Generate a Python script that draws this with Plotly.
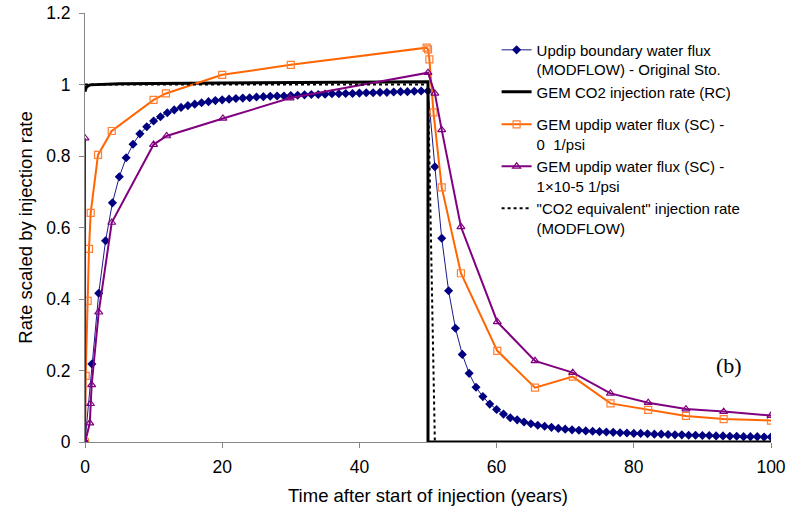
import plotly.graph_objects as go

# MODFLOW updip boundary water flux (original storativity), one value per year
modflow_years = list(range(0, 101))
modflow_flux = [
    0.000, 0.218, 0.416, 0.563, 0.669, 0.742, 0.795, 0.833, 0.862, 0.882,
    0.898, 0.910, 0.921, 0.929, 0.936, 0.941, 0.945, 0.949, 0.952, 0.955,
    0.957, 0.959, 0.961, 0.962, 0.963, 0.965, 0.966, 0.967, 0.968, 0.968,
    0.969, 0.970, 0.971, 0.972, 0.972, 0.973, 0.974, 0.974, 0.975, 0.975,
    0.976, 0.977, 0.977, 0.978, 0.978, 0.979, 0.980, 0.980, 0.981, 0.982,
    0.982, 0.770, 0.570, 0.423, 0.318, 0.245, 0.192, 0.153, 0.127, 0.106,
    0.091, 0.078, 0.068, 0.062, 0.056, 0.051, 0.047, 0.044, 0.041, 0.038,
    0.036, 0.034, 0.033, 0.031, 0.030, 0.029, 0.028, 0.027, 0.026, 0.025,
    0.024, 0.024, 0.023, 0.022, 0.022, 0.021, 0.020, 0.020, 0.019, 0.019,
    0.018, 0.018, 0.017, 0.017, 0.016, 0.016, 0.015, 0.015, 0.015, 0.014,
    0.014,
]

# GEM CO2 injection rate at reservoir conditions
gem_rc_years = [0, 0.2, 0.7, 5, 50, 50, 100]
gem_rc_rate = [0.98, 0.993, 0.999, 1.002, 1.008, 0.0, 0.0]

# GEM updip water flux, zero rock compressibility
gem_c0_years = [0, 0.1, 0.39, 0.58, 0.83, 1.9, 3.9, 10, 11.8, 20, 30, 49.8, 50,
                50.2, 50.8, 52, 54.8, 60.1, 65.6, 71.1, 76.6, 82.1, 87.6, 93.1, 100]
gem_c0_flux = [0.0, 0.185, 0.395, 0.54, 0.641, 0.803, 0.87, 0.957, 0.975, 1.027,
               1.055, 1.103, 1.098, 1.07, 0.922, 0.712, 0.472, 0.255, 0.152, 0.183,
               0.108, 0.09, 0.073, 0.064, 0.06]

# GEM updip water flux, compressibility 1e-5 1/psi
gem_c5_years = [0, 0, 0.02, 0.7, 0.8, 0.97, 2.0, 3.9, 10, 11.9, 20.1, 29.9, 50,
                51, 52, 54.8, 60.1, 65.6, 71.1, 76.6, 82.1, 87.6, 93.1, 100]
gem_c5_flux = [0.0, 0.85, 0.0, 0.053, 0.107, 0.16, 0.363, 0.614, 0.832, 0.856,
               0.905, 0.962, 1.033, 0.975, 0.873, 0.602, 0.336, 0.227, 0.194, 0.136,
               0.11, 0.092, 0.085, 0.074]

# "CO2 equivalent" injection rate used in MODFLOW
equiv_years = [0, 50, 51, 100]
equiv_rate = [1.0, 1.0, 0.0, 0.0]

x_ticks = [0, 20, 40, 60, 80, 100]
y_ticks = [0, 0.2, 0.4, 0.6, 0.8, 1.0, 1.2]
y_tick_text = ["0", "0.2", "0.4", "0.6", "0.8", "1", "1.2"]

FONT = "Liberation Sans, Arial, sans-serif"

fig = go.Figure()

fig.add_trace(go.Scatter(
    x=modflow_years, y=modflow_flux, mode="lines+markers",
    name="Updip boundary water flux<br>(MODFLOW) - Original Sto.",
    legendgroup="a",
    line=dict(color="#1a1a8c", width=1),
    marker=dict(symbol="diamond", size=7, color="#000080"),
))
fig.add_trace(go.Scatter(
    x=gem_rc_years, y=gem_rc_rate, mode="lines",
    name="GEM CO2 injection rate (RC)",
    legendgroup="a",
    line=dict(color="#000000", width=3),
))
fig.add_trace(go.Scatter(
    x=gem_c0_years, y=gem_c0_flux, mode="lines+markers",
    name="GEM updip water flux (SC) -<br>0  1/psi",
    legendgroup="b",
    line=dict(color="#FF6600", width=2),
    marker=dict(symbol="square-open", size=7, color="#FF7F33",
                line=dict(width=1.2)),
))
fig.add_trace(go.Scatter(
    x=gem_c5_years, y=gem_c5_flux, mode="lines+markers",
    name="GEM updip water flux (SC) -<br>1×10-5 1/psi",
    legendgroup="b",
    line=dict(color="#800080", width=2),
    marker=dict(symbol="triangle-up-open", size=7, color="#800080",
                line=dict(width=1.2)),
))
fig.add_trace(go.Scatter(
    x=equiv_years, y=equiv_rate, mode="lines",
    name="\"CO2 equivalent\" injection rate<br>(MODFLOW)",
    legendgroup="b",
    line=dict(color="#000000", width=2, dash="3px,3px"),
))

fig.add_annotation(
    x=93.9, y=0.215, xref="x", yref="y", text="(b)", showarrow=False,
    font=dict(family="Liberation Serif, Times New Roman, serif", size=22, color="#000000"),
)

axis_common = dict(
    showgrid=False, zeroline=False, showline=True,
    linecolor="#868686", linewidth=1,
    ticks="outside", ticklen=5, tickcolor="#868686",
    tickfont=dict(family=FONT, size=17.5, color="#000000"),
    layer="below traces",
)

fig.update_xaxes(
    range=[0, 100], tickvals=x_ticks,
    ticklabelstandoff=4,
    title=dict(text="Time after start of injection (years)",
               font=dict(family=FONT, size=18.5, color="#000000"), standoff=13),
    **axis_common,
)
fig.update_yaxes(
    range=[0, 1.2], tickvals=y_ticks, ticktext=y_tick_text,
    ticklabelstandoff=5,
    title=dict(text="Rate scaled by injection rate",
               font=dict(family=FONT, size=18.5, color="#000000"), standoff=8),
    **axis_common,
)

fig.update_layout(
    width=792, height=515,
    margin=dict(l=85, r=21, t=13, b=73, autoexpand=False),
    paper_bgcolor="#ffffff", plot_bgcolor="#ffffff",
    showlegend=True,
    legend=dict(
        x=0.6, y=0.952, xanchor="left", yanchor="top",
        font=dict(family=FONT, size=15, color="#000000"),
        bgcolor="rgba(0,0,0,0)", borderwidth=0,
        traceorder="grouped", tracegroupgap=10, valign="top",
    ),
)

fig.write_html("out.html")
